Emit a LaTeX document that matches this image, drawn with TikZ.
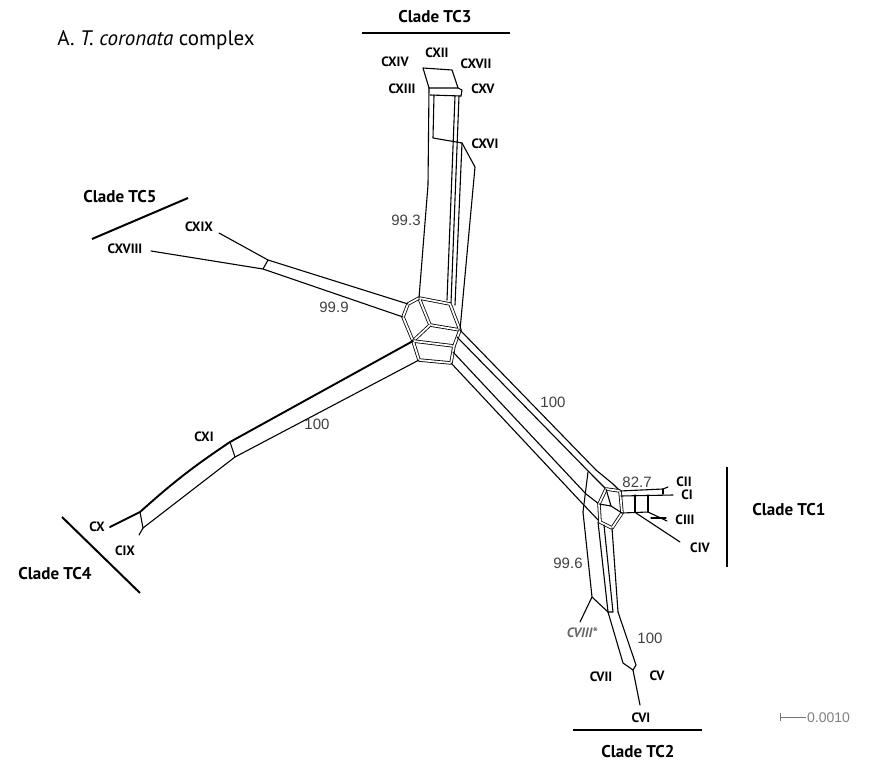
\documentclass[tikz,border=0pt]{standalone}
\usepackage{fontspec}
\setmainfont{PT Sans}
\newfontfamily\numfont{Liberation Sans}
\tikzset{
  net/.style={line width=1.1pt, line join=round, line cap=round},
  thick net/.style={line width=1.9pt, line cap=round},
  dbl/.style={draw=black, line width=0.8pt, double=white, double distance=1.8pt, line join=round},
  lbl/.style={font=\bfseries\fontsize{13.5}{13.5}\selectfont, inner sep=0pt},
  num/.style={font=\numfont\fontsize{15}{15}\selectfont, text=black!75, inner sep=0pt},
  clade/.style={font=\bfseries\fontsize{17}{17}\selectfont, inner sep=0pt},
  cladebar/.style={line width=2pt},
}
\begin{document}
\begin{tikzpicture}[x=1pt,y=-1pt]
\useasboundingbox (0,0) rectangle (870,767);

% ---------- title ----------
\node[font=\fontsize{21}{21}\selectfont, inner sep=0pt] (title) at (156,40) {A. \textit{T. coronata} complex};

% ---------- central core ----------
\coordinate (P1) at (419,298);
\coordinate (P2) at (450,304);
\coordinate (P3) at (460,330);
\coordinate (C)  at (430,325);
\coordinate (Q1) at (408,304);
\coordinate (Q2) at (403,317);
\coordinate (R)  at (413,341);
\coordinate (S)  at (454,346);
\coordinate (T)  at (451,363);
\coordinate (U)  at (419,360);
\draw[dbl] (P1) -- (P2) -- (P3) -- (C) -- cycle;
\draw[dbl] (P1) -- (Q1) -- (Q2) -- (R) -- (C);
\draw[dbl] (R) -- (S) -- (T) -- (U) -- cycle;
\draw[dbl] (P3) -- (S);

% ---------- TC3 branch ----------
\coordinate (t1) at (423,68);
\coordinate (t2) at (452,70);
\coordinate (t3) at (458,88);
\coordinate (t4) at (429,88);
\coordinate (t5) at (430,95);
\coordinate (t6) at (461,96);
\coordinate (t7) at (462,90);
\coordinate (rg1) at (433,138);
\coordinate (rg2) at (462,143);
\coordinate (cxvi) at (475,167);
\draw[net] (t1) -- (t2) -- (t3) -- (t4) -- cycle;
\draw[net] (t5) -- (t6);
\draw[net] (t3) -- (t7) -- (t6);
\draw[net] (t4) -- (428,185) -- (P1);
\draw[net] (434,95) -- (rg1) -- (rg2);
\draw[net] (455,96) -- (447,300);
\draw[net] (459,96) -- (451,303);
\draw[net] (rg2) -- (455,305);
\draw[net] (rg2) -- (cxvi) -- (P3);

% ---------- TC5 branch ----------
\coordinate (f1) at (268,260);
\coordinate (f2) at (263,269);
\coordinate (cxix) at (219,233);
\coordinate (cxviii) at (151,251);
\draw[net] (Q1) -- (f1) -- (cxix);
\draw[net] (Q2) -- (f2) -- (cxviii);
\draw[net] (f1) -- (f2);

% ---------- TC4 branch ----------
\coordinate (g1) at (230,442);
\coordinate (g2) at (235,457);
\coordinate (g3) at (140,512);
\coordinate (g4) at (143,528);
\coordinate (cx)  at (110,527);
\coordinate (cix) at (139,535);
\draw[thick net] (R) -- (g1) to[bend right=4] (g3) -- (cx);
\draw[net] (U) -- (g2) -- (g4) -- (cix);
\draw[net] (g1) -- (g2);
\draw[net] (g3) -- (g4);

% ---------- TC1 bundle ----------
\coordinate (E1) at (596,470);
\coordinate (E2) at (593,476);
\coordinate (E3) at (586,494);
\coordinate (E4) at (581,502);
\coordinate (Sp) at (453,352);
\draw[net] (P3) -- (E1);
\draw[net] (457,337) -- (E2);
\draw[net] (Sp) -- (E3);
\draw[net] (T) -- (E4);
\draw[net] (588,472) -- (583,512);
% cluster
\coordinate (X1) at (606,489);
\coordinate (X2) at (620,491);
\coordinate (X3) at (622,513);
\coordinate (X4) at (612,528);
\coordinate (X5) at (600,522);
\coordinate (X6) at (599,504);
\coordinate (XC) at (611,506);
\draw[net] (E1) -- (613,484) -- (X2);
\draw[net] (E2) -- (X1);
\draw[net] (E3) -- (X6);
\draw[net] (E4) -- (X5);
\draw[dbl] (X1) -- (X2) -- (X3) -- (X4) -- (X5) -- (X6) -- cycle;
\draw[net] (X1) -- (XC) -- (X3);
\draw[net] (XC) -- (X6);
% CI / CII
\coordinate (cii) at (668,487);
\coordinate (ci) at (673,495);
\draw[net] (X2) -- (663,489) -- (cii);
\draw[net] (621,496) -- (ci);
\draw[net] (663,489) -- (663,494);
\draw[net] (635,495) -- (635,512);
\draw[net] (648,495) -- (648,512);
\draw[net] (X3) -- (648,512);
% CIII
\coordinate (ciii) at (667,521);
\draw[net] (648,512) -- (ciii);
\draw[net] (651,518) -- (666,518);
% CIV
\coordinate (civ) at (680,542);
\draw[net] (636,513) -- (civ);

% ---------- TC2 bundle ----------
\coordinate (j1) at (592,597);
\coordinate (j2) at (608,612);
\coordinate (j3) at (618,612);
\coordinate (cviii) at (580,622);
\coordinate (b1) at (623,663);
\coordinate (b2) at (636,665);
\coordinate (b3) at (633,670);
\coordinate (cvi) at (640,705);
\draw[net] (583,512) -- (j1) -- (j2);
\draw[net] (j1) -- (cviii);
\draw[net] (598,522) -- (j2);
\draw[net] (604,525) -- (613,612) -- (j2);
\draw[net] (X4) -- (j3);
\draw[net] (j2) -- (b1) -- (b3);
\draw[net] (j3) -- (b2) -- (b3);
\draw[net] (b3) -- (cvi);

% ---------- labels: TC3 ----------
\node[clade] (ltc3) at (435,17) {Clade TC3};
\draw[cladebar] (362,33) -- (510,33);
\node[lbl] (lcxiv) at (395,62) {CXIV};
\node[lbl] (lcxii) at (437,53) {CXII};
\node[lbl] (lcxvii) at (476,64) {CXVII};
\node[lbl] (lcxiii) at (402,89) {CXIII};
\node[lbl] (lcxv) at (483,89) {CXV};
\node[lbl] (lcxvi) at (485,144) {CXVI};
\node[num] (n993) at (406,220) {99.3};

% ---------- labels: TC5 ----------
\node[clade] (ltc5) at (120,197) {Clade TC5};
\draw[cladebar] (92,239) -- (188,198);
\node[lbl] (lcxix) at (199,227) {CXIX};
\node[lbl] (lcxviii) at (125,249) {CXVIII};
\node[num] (n999) at (334,307) {99.9};

% ---------- labels: TC4 ----------
\node[num] (n100a) at (317,424) {100};
\node[lbl] (lcxi) at (204,437) {CXI};
\node[lbl] (lcx) at (97,527) {CX};
\node[lbl] (lcix) at (125,551) {CIX};
\node[clade] (ltc4) at (55,574) {Clade TC4};
\draw[cladebar] (62,517) -- (140,593);

% ---------- labels: TC1 ----------
\node[num] (n100b) at (553,402) {100};
\node[num] (n827) at (637,482) {82.7};
\node[lbl] (lcii) at (684,482) {CII};
\node[lbl] (lci) at (687,495) {CI};
\node[lbl] (lciii) at (685,520) {CIII};
\node[lbl] (lciv) at (700,548) {CIV};
\draw[cladebar] (727,467) -- (727,567);
\node[clade] (ltc1) at (789,510) {Clade TC1};

% ---------- labels: TC2 ----------
\node[num] (n996) at (568,563) {99.6};
\node[font=\bfseries\itshape\fontsize{13.5}{13.5}\selectfont, text=black!60, inner sep=0pt] (lcviii) at (582,633) {CVIII*};
\node[num] (n100c) at (650,638) {100};
\node[lbl] (lcvii) at (601,677) {CVII};
\node[lbl] (lcv) at (657,676) {CV};
\node[lbl] (lcvi) at (641,718) {CVI};
\draw[cladebar] (573,730) -- (702,730);
\node[clade] (ltc2) at (638,752) {Clade TC2};

% ---------- scale bar ----------
\coordinate (sb1) at (780,717);
\coordinate (sb2) at (806,717);
\draw[black!55, line width=1pt] (sb1) -- (sb2);
\draw[black!55, line width=1pt] (780,713) -- (780,721);
\node[font=\numfont\fontsize{14}{14}\selectfont, text=black!50, inner sep=0pt, anchor=west] (scl) at (807,718) {0.0010};
\end{tikzpicture}
\end{document}
